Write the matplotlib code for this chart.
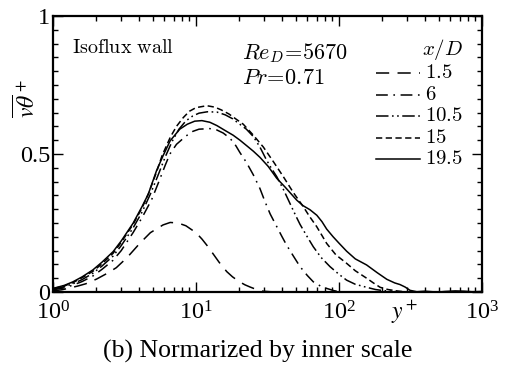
import numpy as np
import matplotlib
matplotlib.use("Agg")
import matplotlib.pyplot as plt
from matplotlib.ticker import MultipleLocator, LogLocator, NullFormatter

plt.rcParams['font.family'] = ['Liberation Serif', 'DejaVu Serif']
plt.rcParams['mathtext.fontset'] = 'stix'
plt.rcParams['lines.scale_dashes'] = False

# x/D = 1.5
x_15 = [1.0, 1.15, 1.3, 1.5, 1.7, 2.02, 2.4, 2.77, 3.3, 4.04, 4.8, 5.88, 6.6, 7.5, 8.5, 10, 11,
        12.1, 13.1, 14.5, 16.4, 18, 20, 22, 23.9, 26.5, 29.4, 33, 40]
y_15 = [0.004, 0.008, 0.014, 0.022, 0.03, 0.047, 0.068, 0.088, 0.125, 0.176, 0.215, 0.243, 0.252,
        0.25, 0.24, 0.215, 0.192, 0.165, 0.14, 0.108, 0.074, 0.055, 0.038, 0.026, 0.018, 0.009,
        0.003, 0.001, 0.0]

# x/D = 6
x_6 = [1.0, 1.2, 1.38, 1.6, 1.9, 2.2, 2.63, 3.0, 3.63, 4.2, 4.9, 5.5, 6.1, 6.57, 7.3, 8.5, 9.5,
       10.5, 12.5, 14, 15.5, 17.3, 19, 20.3, 22.5, 25.2, 28, 30.4, 33, 36.7, 40, 43, 48, 53.4, 60,
       66.1, 74, 82, 92, 100, 115]
y_6 = [0.008, 0.015, 0.025, 0.038, 0.058, 0.082, 0.115, 0.15, 0.215, 0.27, 0.335, 0.4, 0.46, 0.5,
       0.535, 0.565, 0.582, 0.59, 0.592, 0.587, 0.576, 0.557, 0.53, 0.505, 0.47, 0.424, 0.375,
       0.327, 0.283, 0.237, 0.2, 0.17, 0.13, 0.092, 0.06, 0.037, 0.022, 0.013, 0.005, 0.001, 0.0]

# x/D = 10.5
x_105 = [1.0, 1.2, 1.38, 1.6, 1.9, 2.2, 2.63, 3.0, 3.63, 4.2, 4.8, 5.4, 6.1, 6.8, 7.6, 8.5, 9.5,
         10.5, 12, 14, 16, 18, 20, 22.5, 25.2, 28, 31, 33.5, 36.7, 41, 45.4, 50, 53.4, 60, 66.1,
         75, 86.5, 100, 113, 130, 156, 180, 204, 250, 300]
y_105 = [0.01, 0.019, 0.03, 0.045, 0.068, 0.094, 0.13, 0.168, 0.232, 0.29, 0.355, 0.42, 0.49, 0.545,
         0.59, 0.62, 0.638, 0.648, 0.653, 0.652, 0.642, 0.628, 0.61, 0.59, 0.563, 0.525, 0.48, 0.45,
         0.418, 0.37, 0.321, 0.275, 0.245, 0.2, 0.164, 0.125, 0.092, 0.064, 0.043, 0.028, 0.017,
         0.009, 0.005, 0.002, 0.0]

# x/D = 15
x_150 = [1.0, 1.2, 1.38, 1.6, 1.9, 2.2, 2.63, 3.0, 3.63, 4.2, 4.64, 5.3, 5.8, 6.6, 7.3, 8.15, 9,
         10, 11.9, 13.5, 15, 17, 19, 21.4, 25, 29.6, 35, 40.8, 48, 56.3, 62, 69.8, 76, 82, 95, 113,
         130, 156, 175, 194, 220, 260, 300]
y_150 = [0.012, 0.022, 0.034, 0.052, 0.075, 0.102, 0.14, 0.18, 0.245, 0.305, 0.355, 0.435, 0.495,
         0.56, 0.6, 0.632, 0.655, 0.668, 0.675, 0.67, 0.66, 0.645, 0.627, 0.608, 0.57, 0.525, 0.47,
         0.418, 0.36, 0.309, 0.275, 0.237, 0.205, 0.176, 0.135, 0.104, 0.077, 0.05, 0.032, 0.017,
         0.009, 0.003, 0.0]

# x/D = 19.5
x_195 = [1.0, 1.2, 1.38, 1.6, 1.9, 2.2, 2.63, 3.0, 3.63, 4.2, 4.64, 5.3, 5.9, 6.6, 7.7, 8.7, 9.8,
         11, 12.5, 14, 16, 18.2, 20.3, 23, 25.2, 28, 32, 36.7, 42, 50.6, 56, 62.7, 70, 76, 82, 91,
         100, 113, 130, 156, 185, 216, 245, 267, 290, 314, 350, 400, 450, 500, 550, 650, 750, 850,
         1000]
y_195 = [0.013, 0.024, 0.037, 0.055, 0.08, 0.108, 0.146, 0.185, 0.249, 0.31, 0.355, 0.44, 0.495,
         0.548, 0.59, 0.608, 0.619, 0.621, 0.615, 0.603, 0.585, 0.568, 0.55, 0.527, 0.51, 0.488,
         0.455, 0.412, 0.38, 0.333, 0.313, 0.298, 0.278, 0.255, 0.228, 0.2, 0.177, 0.148, 0.12,
         0.098, 0.07, 0.046, 0.033, 0.027, 0.018, 0.006, 0.001, 0.003, 0.001, 0.0, 0.002, 0.004,
         0.003, 0.001, 0.002]

labels = ['1.5', '6', '10.5', '15', '19.5']
series = [(x_15, y_15), (x_6, y_6), (x_105, y_105), (x_150, y_150), (x_195, y_195)]
dashes = [(9.5, 6), (8.5, 4, 1.2, 4), (9, 2.5, 1.2, 2.5, 1.2, 2.5), (4.5, 2.5), ()]

fig = plt.figure(figsize=(5.15, 3.76), dpi=100)
ax = fig.add_axes([0.1029, 0.2234, 0.833, 0.734])

for (xs, ys), lab, d in zip(series, labels, dashes):
    line, = ax.plot(xs, ys, color='black', lw=1.1, label='$' + lab + '$')
    if d:
        line.set_dashes(d)

ax.set_xscale('log')
ax.set_xlim(1, 1000)
ax.set_ylim(0, 1)
ax.xaxis.set_major_locator(LogLocator(base=10))
ax.xaxis.set_minor_locator(LogLocator(base=10, subs=np.arange(2, 10)))
ax.xaxis.set_minor_formatter(NullFormatter())
ax.yaxis.set_minor_locator(MultipleLocator(0.05))
ax.set_yticks([0, 0.5, 1])
ax.set_yticklabels(['0', '0.5', '1'])

ax.tick_params(which='both', direction='in', top=True, right=True, width=1.0)
ax.tick_params(which='major', length=7, labelsize=17.5, pad=2)
ax.tick_params(axis='x', which='major', pad=7)
ax.tick_params(which='minor', length=3.5)
for sp in ax.spines.values():
    sp.set_linewidth(1.6)

ax.set_ylabel(r'$\overline{v\theta}^{\,+}$', fontsize=17, labelpad=0)
ax.yaxis.set_label_coords(-0.03, 0.70)
ax.text(0.82, -0.075, '$y^+$', transform=ax.transAxes, fontsize=17, ha='center', va='center')

ax.text(0.044, 0.866, r'$\mathrm{Isoflux\ wall}$', transform=ax.transAxes, fontsize=14.5,
        math_fontfamily='cm')
ax.text(0.44, 0.845, r'$Re_D\!=\!5670$', transform=ax.transAxes, fontsize=16, math_fontfamily='cm')
ax.text(0.44, 0.755, r'$Pr\!=\!0.71$', transform=ax.transAxes, fontsize=16, math_fontfamily='cm')

leg = ax.legend(loc='upper right', bbox_to_anchor=(0.962, 0.935), frameon=False, title='$x/D$',
                alignment='right', handlelength=3.2, handletextpad=0.35, labelspacing=0.18,
                borderaxespad=0, borderpad=0.2)
for t in leg.get_texts():
    t.set_fontsize(15)
    t.set_math_fontfamily('cm')
leg.get_title().set_fontsize(15)
leg.get_title().set_math_fontfamily('cm')

fig.text(0.5, 0.065, '(b) Normarized by inner scale', ha='center', va='center', fontsize=18.5)

fig.savefig('out.png', dpi=100)
